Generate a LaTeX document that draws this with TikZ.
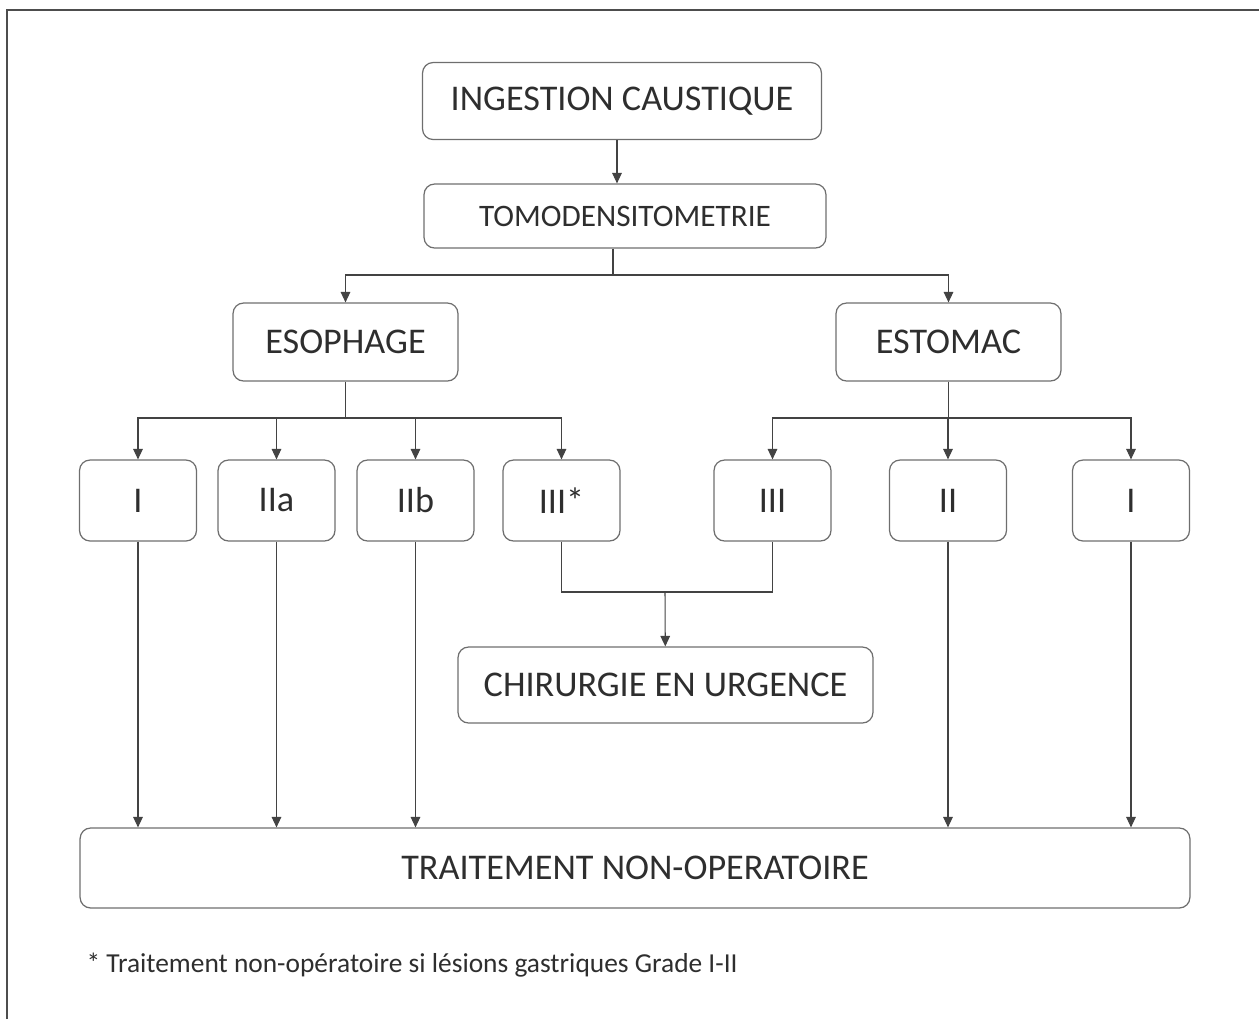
\documentclass[tikz,border=0pt]{standalone}
\usepackage{fontspec}
\setmainfont{Carlito}
\usetikzlibrary{arrows.meta}
\definecolor{boxgray}{HTML}{6E6E6E}
\definecolor{inkgray}{HTML}{2E2E2E}
\begin{document}
\begin{tikzpicture}[x=.02cm, y=-.02cm, >={Triangle[width=5.5pt,length=6pt]},
    line width=.6pt, draw=boxgray, text=inkgray,
    bigbox/.style={draw=boxgray, rounded corners=6pt, line width=.7pt, align=center,
      font=\fontsize{20.6}{24}\selectfont, inner sep=0pt},
    gradebox/.style={bigbox, minimum width=2.34cm, minimum height=1.62cm},
    link/.style={draw=inkgray!90, line width=.6pt}]
    \useasboundingbox (0,0) rectangle (1259,1019);
    % frame (left and top only)
    \draw[line width=1.2pt, draw=inkgray!85] (7,1019) -- (7,10) -- (1259,10);
    % main boxes
    \node[bigbox, minimum width=7.98cm, minimum height=1.54cm] (ing) at (622,101) {INGESTION CAUSTIQUE};
    \node[bigbox, minimum width=8.04cm, minimum height=1.28cm,
      font=\fontsize{17.8}{21}\selectfont] (tomo) at (625,216) {TOMODENSITOMETRIE};
    \node[bigbox, minimum width=4.5cm, minimum height=1.56cm] (eso) at (345.5,342) {ESOPHAGE};
    \node[bigbox, minimum width=4.5cm, minimum height=1.56cm] (est) at (948.5,342) {ESTOMAC};
    \foreach \name/\x/\label in {e1/138/I, e2a/276.5/IIa, e2b/415.5/IIb, e3/561.5/III*,
        s3/772.5/III, s2/948/II, s1/1131/I}
      \node[gradebox] (\name) at (\x,500.5) {\label};
    \node[bigbox, minimum width=8.3cm, minimum height=1.52cm] (chir) at (665.5,685) {CHIRURGIE EN URGENCE};
    \node[bigbox, minimum width=22.2cm, minimum height=1.6cm] (trait) at (635,868) {TRAITEMENT NON-OPERATOIRE};
    \node[anchor=west, inner sep=0pt, font=\fontsize{15.6}{18}\selectfont] (note) at (86,965)
      {* Traitement non-opératoire si lésions gastriques Grade I-II};
    % junctions
    \coordinate (tj) at (613,275);
    \coordinate (ej) at (345.5,418);
    \coordinate (sj) at (948.5,418);
    \coordinate (cj) at (665,592);
    % connectors
    \draw[link,->] (ing.south -| 617,0) -- (tomo.north -| 617,0);
    \draw[link] (tomo.south -| tj) -- (tj);
    \draw[link,->] (tj) -| (eso);
    \draw[link,->] (tj) -| (est);
    \draw[link] (eso) -- (ej);
    \foreach \g in {e1,e2a,e2b,e3}
      \draw[link,->] (ej) -| (\g);
    \draw[link] (est) -- (sj);
    \foreach \g in {s3,s2,s1}
      \draw[link,->] (sj) -| (\g);
    \draw[link] (e3) |- (cj) -| (s3);
    \draw[link,->] (cj) -- (chir);
    \foreach \g in {e1,e2a,e2b,s2,s1}
      \draw[link,->] (\g) -- (\g |- trait.north);
\end{tikzpicture}
\end{document}
